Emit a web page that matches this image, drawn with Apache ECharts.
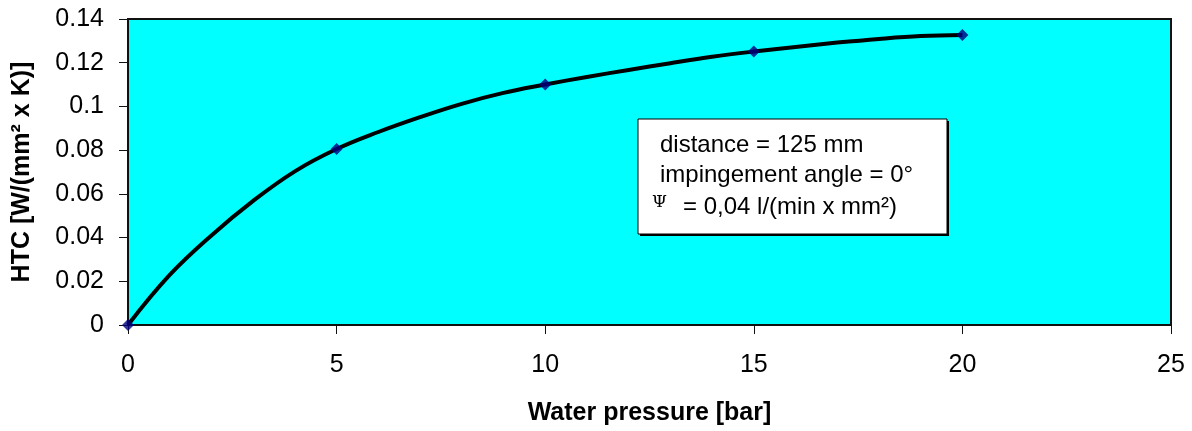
<!DOCTYPE html>
<html>
<head>
<meta charset="utf-8">
<script src="https://cdn.jsdelivr.net/npm/echarts@6/dist/echarts.min.js"></script>
<style>html,body{margin:0;padding:0;background:#fff;}#c{width:1192px;height:431px;}</style>
</head>
<body>
<div id="c"></div>
<script>
// Measured points (diamond markers)
const pressure = [0, 5, 10, 15, 20];
const htc = [0, 0.0805, 0.110, 0.1251, 0.1327];
// Smoothed curve at each bar
const curvePressure = [0, 1, 2, 3, 4, 5, 6, 7, 8, 9, 10, 11, 12, 13, 14, 15, 16, 17, 18, 19, 20];
const curveHtc = [0, 0.0229, 0.041, 0.0568, 0.0703, 0.0805, 0.0883, 0.0951, 0.1012, 0.1062, 0.110,
                  0.1135, 0.1167, 0.1198, 0.1227, 0.1251, 0.1272, 0.1292, 0.1309, 0.1322, 0.1327];
const yTicks = ['0', '0.02', '0.04', '0.06', '0.08', '0.1', '0.12', '0.14'];
const noteLines = ['distance = 125 mm', 'impingement angle = 0°', '= 0,04 l/(min x mm²)'];

const chart = echarts.init(document.getElementById('c'), null, {renderer: 'canvas'});
const font = 'Arial, "Liberation Sans", sans-serif';
chart.setOption({
  animation: false,
  grid: {left: 128, right: 21, top: 19, bottom: 104, show: true, backgroundColor: '#00FFFF', borderColor: '#111', borderWidth: 2},
  xAxis: {
    type: 'value', min: 0, max: 25, interval: 5,
    name: 'Water pressure [bar]', nameLocation: 'middle', nameGap: 76,
    nameTextStyle: {fontFamily: font, fontSize: 25, fontWeight: 'bold', color: '#000'},
    axisLine: {show: true, lineStyle: {color: '#111', width: 2}},
    axisTick: {show: true, length: 9, lineStyle: {color: '#111'}},
    axisLabel: {fontFamily: font, fontSize: 25, color: '#000', margin: 28},
    splitLine: {show: false}
  },
  yAxis: {
    type: 'value', min: 0, max: 0.14, interval: 0.02,
    name: 'HTC [W/(mm² x K)]', nameLocation: 'middle', nameGap: 93, nameRotate: 90,
    nameTextStyle: {fontFamily: font, fontSize: 25, fontWeight: 'bold', color: '#000'},
    axisLine: {show: true, lineStyle: {color: '#111', width: 2}},
    axisTick: {show: true, length: 9, lineStyle: {color: '#111'}},
    axisLabel: {fontFamily: font, fontSize: 25, color: '#000', margin: 24,
      formatter: (v) => yTicks[Math.round(v / 0.02)]},
    splitLine: {show: false}
  },
  series: [{
    type: 'line',
    data: curvePressure.map((p, i) => [p, curveHtc[i]]),
    smooth: 0.4,
    showSymbol: false,
    lineStyle: {color: '#000', width: 4},
    z: 3
  }, {
    type: 'scatter',
    data: pressure.map((p, i) => [p, htc[i]]),
    symbol: 'diamond', symbolSize: 12,
    itemStyle: {color: '#000080'},
    z: 4
  }],
  graphic: [
    {type: 'rect', shape: {x: 640, y: 121, width: 309, height: 115}, style: {fill: '#000'}, z: 10},
    {type: 'rect', shape: {x: 638, y: 119, width: 309, height: 115}, style: {fill: '#fff', stroke: '#000', lineWidth: 1}, z: 11},
    {type: 'text', x: 660, y: 145, style: {text: noteLines[0], font: '24px ' + font, fill: '#000', textVerticalAlign: 'middle'}, z: 12},
    {type: 'text', x: 660, y: 175, style: {text: noteLines[1], font: '24px ' + font, fill: '#000', textVerticalAlign: 'middle'}, z: 12},
    {type: 'text', x: 652, y: 203, style: {text: 'Ψ', font: '17px "DejaVu Serif", serif', fill: '#000', textVerticalAlign: 'middle'}, z: 12},
    {type: 'text', x: 683, y: 207, style: {text: noteLines[2], font: '24px ' + font, fill: '#000', textVerticalAlign: 'middle'}, z: 12}
  ]
});
</script>
</body>
</html>
